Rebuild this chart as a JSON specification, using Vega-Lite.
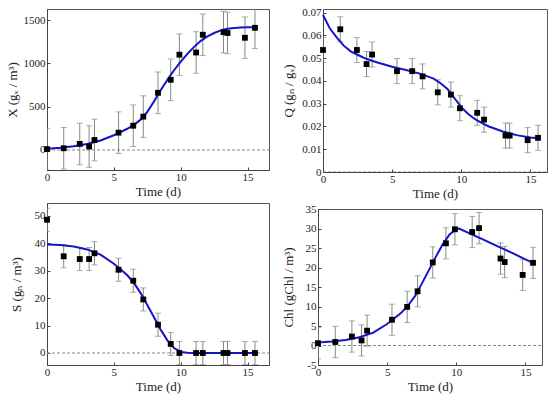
{
  "$schema": "https://vega.github.io/schema/vega-lite/v6.json",
  "padding": {"left": 5, "top": 6, "right": 0, "bottom": 0},
  "datasets": {
    "obs": [
      {"t": 0, "X": 10, "Q": 0.0536, "S": 48.5, "Chl": 0.6, "eX": 240, "eQ": 0.0055, "eS": 4.2, "eChl": 4},
      {"t": 1.25, "X": 20, "Q": 0.0627, "S": 35.2, "Chl": 0.9, "eX": 240, "eQ": 0.0055, "eS": 4.2, "eChl": 4},
      {"t": 2.45, "X": 70, "Q": 0.0536, "S": 34.2, "Chl": 2.3, "eX": 240, "eQ": 0.0055, "eS": 4.2, "eChl": 4},
      {"t": 3.15, "X": 40, "Q": 0.0474, "S": 34.2, "Chl": 1.3, "eX": 240, "eQ": 0.0055, "eS": 4.2, "eChl": 4},
      {"t": 3.55, "X": 115, "Q": 0.0516, "S": 36.3, "Chl": 3.8, "eX": 240, "eQ": 0.0055, "eS": 4.2, "eChl": 4},
      {"t": 5.35, "X": 200, "Q": 0.0443, "S": 30.3, "Chl": 6.6, "eX": 240, "eQ": 0.0055, "eS": 4.2, "eChl": 4},
      {"t": 6.45, "X": 280, "Q": 0.0443, "S": 26.3, "Chl": 9.9, "eX": 240, "eQ": 0.0055, "eS": 4.2, "eChl": 4},
      {"t": 7.2, "X": 385, "Q": 0.042, "S": 19.5, "Chl": 13.9, "eX": 240, "eQ": 0.0055, "eS": 4.2, "eChl": 4},
      {"t": 8.3, "X": 660, "Q": 0.035, "S": 10.3, "Chl": 21.3, "eX": 240, "eQ": 0.0055, "eS": 4.2, "eChl": 4},
      {"t": 9.25, "X": 810, "Q": 0.034, "S": 3.3, "Chl": 26.2, "eX": 240, "eQ": 0.0055, "eS": 4.2, "eChl": 4},
      {"t": 9.9, "X": 1100, "Q": 0.028, "S": 0, "Chl": 29.8, "eX": 240, "eQ": 0.0055, "eS": 4.2, "eChl": 4},
      {"t": 11.15, "X": 1125, "Q": 0.026, "S": 0, "Chl": 29.1, "eX": 240, "eQ": 0.0055, "eS": 4.2, "eChl": 4},
      {"t": 11.65, "X": 1330, "Q": 0.023, "S": 0, "Chl": 30.1, "eX": 240, "eQ": 0.0055, "eS": 4.2, "eChl": 4},
      {"t": 13.2, "X": 1360, "Q": 0.016, "S": 0, "Chl": 22.3, "eX": 240, "eQ": 0.0055, "eS": 4.2, "eChl": 4},
      {"t": 13.5, "X": 1350, "Q": 0.016, "S": 0, "Chl": 21.4, "eX": 240, "eQ": 0.0055, "eS": 4.2, "eChl": 4},
      {"t": 14.8, "X": 1295, "Q": 0.014, "S": 0, "Chl": 18.1, "eX": 240, "eQ": 0.0055, "eS": 4.2, "eChl": 4},
      {"t": 15.55, "X": 1410, "Q": 0.015, "S": 0, "Chl": 21.2, "eX": 240, "eQ": 0.0055, "eS": 4.2, "eChl": 4}
    ],
    "zero": [{"t": 0, "v": 0}, {"t": 16.6, "v": 0}],
    "mX": [
      {"t": 0, "v": 15}, {"t": 1, "v": 25}, {"t": 2, "v": 42}, {"t": 3, "v": 70}, {"t": 4, "v": 110},
      {"t": 5, "v": 170}, {"t": 5.5, "v": 205}, {"t": 6, "v": 245}, {"t": 6.5, "v": 290}, {"t": 7, "v": 350},
      {"t": 7.5, "v": 440}, {"t": 8, "v": 560}, {"t": 8.5, "v": 690}, {"t": 9, "v": 810}, {"t": 9.5, "v": 920},
      {"t": 10, "v": 1020}, {"t": 10.5, "v": 1110}, {"t": 11, "v": 1190}, {"t": 11.5, "v": 1260}, {"t": 12, "v": 1310},
      {"t": 12.5, "v": 1350}, {"t": 13, "v": 1380}, {"t": 13.5, "v": 1398}, {"t": 14, "v": 1408}, {"t": 14.5, "v": 1413},
      {"t": 15, "v": 1415}, {"t": 15.55, "v": 1415}
    ],
    "mQ": [
      {"t": 0, "v": 0.069}, {"t": 0.25, "v": 0.066}, {"t": 0.5, "v": 0.063}, {"t": 1, "v": 0.059}, {"t": 1.5, "v": 0.0555},
      {"t": 2, "v": 0.053}, {"t": 2.5, "v": 0.0515}, {"t": 3, "v": 0.05}, {"t": 3.5, "v": 0.049}, {"t": 4, "v": 0.048},
      {"t": 5, "v": 0.0462}, {"t": 6, "v": 0.0448}, {"t": 7, "v": 0.0432}, {"t": 8, "v": 0.041}, {"t": 8.5, "v": 0.039},
      {"t": 9, "v": 0.0365}, {"t": 9.5, "v": 0.0325}, {"t": 10, "v": 0.0285}, {"t": 10.5, "v": 0.0255}, {"t": 11, "v": 0.0232},
      {"t": 11.5, "v": 0.0215}, {"t": 12, "v": 0.02}, {"t": 13, "v": 0.0178}, {"t": 14, "v": 0.0162}, {"t": 15, "v": 0.0152},
      {"t": 15.55, "v": 0.0148}
    ],
    "mS": [
      {"t": 0, "v": 39.5}, {"t": 1, "v": 39.3}, {"t": 2, "v": 38.8}, {"t": 3, "v": 37.7}, {"t": 4, "v": 35.8},
      {"t": 5, "v": 32.5}, {"t": 5.5, "v": 30.5}, {"t": 6, "v": 28.3}, {"t": 6.5, "v": 25.5}, {"t": 7, "v": 21.8},
      {"t": 7.5, "v": 17.5}, {"t": 8, "v": 13}, {"t": 8.5, "v": 8.5}, {"t": 9, "v": 4.6}, {"t": 9.5, "v": 1.8},
      {"t": 10, "v": 0.4}, {"t": 10.5, "v": 0.05}, {"t": 11, "v": 0}, {"t": 12, "v": 0}, {"t": 13, "v": 0},
      {"t": 14, "v": 0}, {"t": 15, "v": 0}, {"t": 15.55, "v": 0}
    ],
    "mChl": [
      {"t": 0, "v": 0.8}, {"t": 1, "v": 1.0}, {"t": 2, "v": 1.4}, {"t": 3, "v": 2.1}, {"t": 4, "v": 3.3},
      {"t": 5, "v": 5.5}, {"t": 5.5, "v": 6.9}, {"t": 6, "v": 8.3}, {"t": 6.5, "v": 10.2}, {"t": 7, "v": 12.6},
      {"t": 7.5, "v": 15.8}, {"t": 8, "v": 19.2}, {"t": 8.5, "v": 22.6}, {"t": 9, "v": 25.8}, {"t": 9.5, "v": 28.4},
      {"t": 10, "v": 29.9}, {"t": 10.2, "v": 30.0}, {"t": 11, "v": 28.7}, {"t": 12, "v": 27.1}, {"t": 13, "v": 25.4},
      {"t": 14, "v": 23.8}, {"t": 15, "v": 22.1}, {"t": 15.55, "v": 21.2}
    ]
  },
  "concat": [
    {
      "width": 222, "height": 161,
      "encoding": {
        "x": {"field": "t", "type": "quantitative", "title": "Time (d)", "scale": {"domain": [0, 16.6], "nice": false, "zero": false},
              "axis": {"values": [0, 5, 10, 15], "tickCount": 30, "labelExpr": "'' + datum.value"}}
      },
      "layer": [
        {"data": {"name": "zero"},
         "mark": {"type": "line", "strokeDash": [3, 2], "color": "#888", "strokeWidth": 1, "clip": true},
         "encoding": {"y": {"field": "v", "type": "quantitative", "title": "X (gₓ / m³)",
           "scale": {"domain": [-231, 1627], "nice": false, "zero": false},
           "axis": {"values": [0, 500, 1000, 1500], "tickCount": 30, "labelExpr": "'' + datum.value", "minExtent": 24, "maxExtent": 24}}}},
        {"data": {"name": "obs"},
         "mark": {"type": "errorbar", "ticks": true, "size": 6, "thickness": 1, "color": "#888", "clip": true},
         "encoding": {
           "y": {"field": "X", "type": "quantitative", "title": "X (gₓ / m³)"},
           "yError": {"field": "eX"}}},
        {"data": {"name": "mX"},
         "mark": {"type": "line", "color": "#1414c8", "strokeWidth": 2},
         "encoding": {"y": {"field": "v", "type": "quantitative", "title": "X (gₓ / m³)"}}},
        {"data": {"name": "obs"},
         "mark": {"type": "point", "shape": "square", "filled": true, "color": "#000", "size": 34, "opacity": 1},
         "encoding": {"y": {"field": "X", "type": "quantitative", "title": "X (gₓ / m³)"}}}
      ]
    },
    {
      "width": 224, "height": 163,
      "encoding": {
        "x": {"field": "t", "type": "quantitative", "title": "Time (d)", "scale": {"domain": [0, 16.2], "nice": false, "zero": false},
              "axis": {"values": [0, 5, 10, 15], "tickCount": 30, "labelExpr": "'' + datum.value"}}
      },
      "layer": [
        {"data": {"name": "zero"},
         "mark": {"type": "line", "strokeDash": [3, 2], "color": "#888", "strokeWidth": 1, "clip": true},
         "encoding": {"y": {"field": "v", "type": "quantitative", "title": "Q (gₙ / gₓ)",
           "scale": {"domain": [0, 0.0716], "nice": false, "zero": false},
           "axis": {"values": [0, 0.01, 0.02, 0.03, 0.04, 0.05, 0.06, 0.07], "tickCount": 30, "labelExpr": "datum.value == 0 ? '0' : format(datum.value, '.2f')", "minExtent": 24, "maxExtent": 24}}}},
        {"data": {"name": "obs"},
         "mark": {"type": "errorbar", "ticks": true, "size": 6, "thickness": 1, "color": "#888", "clip": true},
         "encoding": {
           "y": {"field": "Q", "type": "quantitative", "title": "Q (gₙ / gₓ)"},
           "yError": {"field": "eQ"}}},
        {"data": {"name": "mQ"},
         "mark": {"type": "line", "color": "#1414c8", "strokeWidth": 2},
         "encoding": {"y": {"field": "v", "type": "quantitative", "title": "Q (gₙ / gₓ)"}}},
        {"data": {"name": "obs"},
         "mark": {"type": "point", "shape": "square", "filled": true, "color": "#000", "size": 34, "opacity": 1},
         "encoding": {"y": {"field": "Q", "type": "quantitative", "title": "Q (gₙ / gₓ)"}}}
      ]
    },
    {
      "width": 222, "height": 162,
      "encoding": {
        "x": {"field": "t", "type": "quantitative", "title": "Time (d)", "scale": {"domain": [0, 16.6], "nice": false, "zero": false},
              "axis": {"values": [0, 5, 10, 15], "tickCount": 30, "labelExpr": "'' + datum.value"}}
      },
      "layer": [
        {"data": {"name": "zero"},
         "mark": {"type": "line", "strokeDash": [3, 2], "color": "#888", "strokeWidth": 1, "clip": true},
         "encoding": {"y": {"field": "v", "type": "quantitative", "title": "S (gₙ / m³)",
           "scale": {"domain": [-4.37, 54.6], "nice": false, "zero": false},
           "axis": {"values": [0, 10, 20, 30, 40, 50], "tickCount": 30, "labelExpr": "'' + datum.value", "minExtent": 20, "maxExtent": 20}}}},
        {"data": {"name": "obs"},
         "mark": {"type": "errorbar", "ticks": true, "size": 6, "thickness": 1, "color": "#888", "clip": true},
         "encoding": {
           "y": {"field": "S", "type": "quantitative", "title": "S (gₙ / m³)"},
           "yError": {"field": "eS"}}},
        {"data": {"name": "mS"},
         "mark": {"type": "line", "color": "#1414c8", "strokeWidth": 2},
         "encoding": {"y": {"field": "v", "type": "quantitative", "title": "S (gₙ / m³)"}}},
        {"data": {"name": "obs"},
         "mark": {"type": "point", "shape": "square", "filled": true, "color": "#000", "size": 34, "opacity": 1},
         "encoding": {"y": {"field": "S", "type": "quantitative", "title": "S (gₙ / m³)"}}}
      ]
    },
    {
      "width": 224, "height": 156,
      "encoding": {
        "x": {"field": "t", "type": "quantitative", "title": "Time (d)", "scale": {"domain": [0, 16.2], "nice": false, "zero": false},
              "axis": {"values": [0, 5, 10, 15], "tickCount": 30, "labelExpr": "'' + datum.value"}}
      },
      "layer": [
        {"data": {"name": "zero"},
         "mark": {"type": "line", "strokeDash": [3, 2], "color": "#888", "strokeWidth": 1, "clip": true},
         "encoding": {"y": {"field": "v", "type": "quantitative", "title": "Chl (gChl / m³)",
           "scale": {"domain": [-5, 35], "nice": false, "zero": false},
           "axis": {"values": [-5, 0, 5, 10, 15, 20, 25, 30, 35], "tickCount": 30, "labelExpr": "'' + datum.value", "minExtent": 19, "maxExtent": 19}}}},
        {"data": {"name": "obs"},
         "mark": {"type": "errorbar", "ticks": true, "size": 6, "thickness": 1, "color": "#888", "clip": true},
         "encoding": {
           "y": {"field": "Chl", "type": "quantitative", "title": "Chl (gChl / m³)"},
           "yError": {"field": "eChl"}}},
        {"data": {"name": "mChl"},
         "mark": {"type": "line", "color": "#1414c8", "strokeWidth": 2},
         "encoding": {"y": {"field": "v", "type": "quantitative", "title": "Chl (gChl / m³)"}}},
        {"data": {"name": "obs"},
         "mark": {"type": "point", "shape": "square", "filled": true, "color": "#000", "size": 34, "opacity": 1},
         "encoding": {"y": {"field": "Chl", "type": "quantitative", "title": "Chl (gChl / m³)"}}}
      ]
    }
  ],
  "columns": 2,
  "align": "none",
  "spacing": {"row": 1, "column": 11},
  "config": {
    "view": {"stroke": "#555", "strokeWidth": 1},
    "font": "Liberation Serif",
    "axis": {
      "grid": false,
      "labelFont": "Liberation Serif", "titleFont": "Liberation Serif",
      "labelFontSize": 11, "titleFontSize": 13, "titleFontWeight": 400,
      "labelColor": "#222", "titleColor": "#222",
      "domainColor": "#444", "tickColor": "#444", "tickSize": -3,
      "labelFlush": false, "labelOverlap": false
    },
    "axisY": {"labelPadding": 5, "titlePadding": 4},
    "axisX": {"labelPadding": 4.5, "titlePadding": 3}
  }
}
